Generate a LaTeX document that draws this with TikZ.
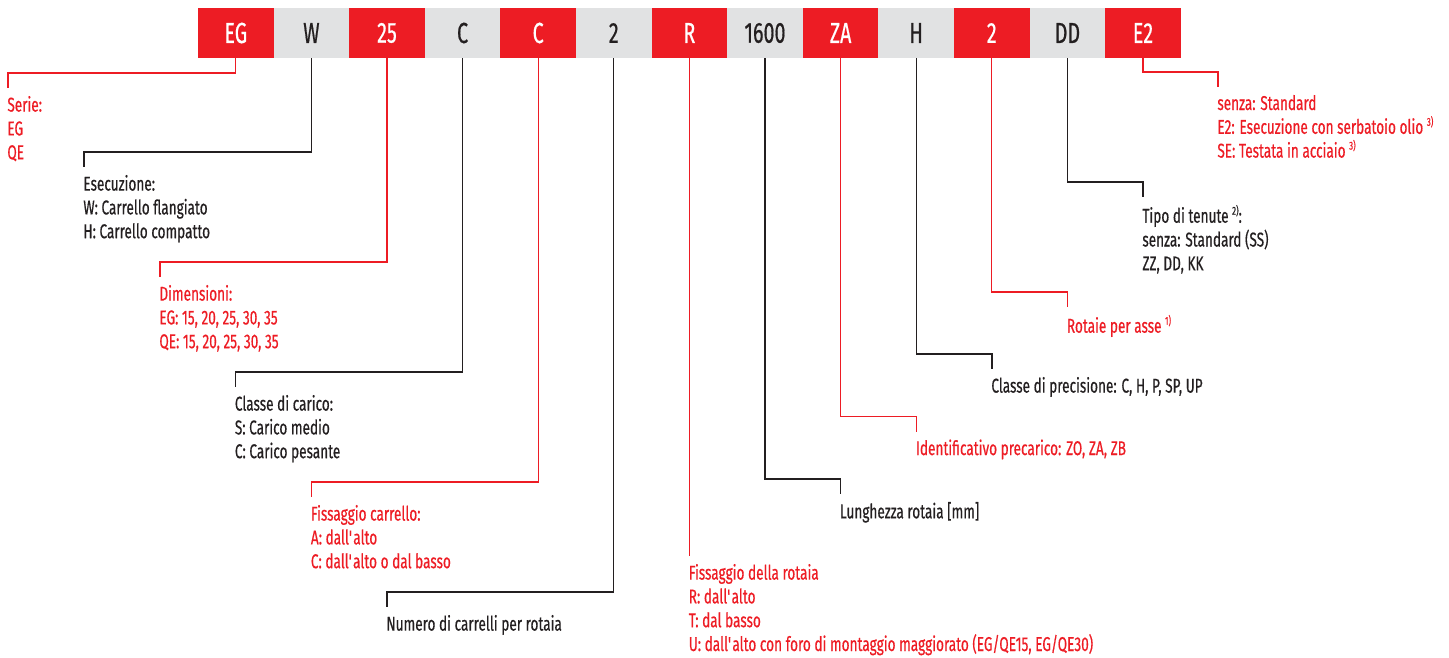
\documentclass[tikz,border=0pt]{standalone}
\usepackage{fontspec}
\setmainfont{Fira Sans}[FakeStretch=0.68,FakeBold=0.5]
\definecolor{hred}{HTML}{ED1C24}
\definecolor{hgray}{HTML}{E1E2E3}
\definecolor{hdark}{HTML}{231F20}
\newcommand\fnsup[1]{\raisebox{0.40em}{\fontsize{11.5}{11.5}\selectfont #1}}
\begin{document}
\begin{tikzpicture}[x=1pt,y=-1pt,
  hbox/.style={minimum width=75.6pt,minimum height=50pt,inner sep=0,outer sep=0,
    font=\fontsize{29}{32}\selectfont},
  redbox/.style={hbox,fill=hred,text=white},
  graybox/.style={hbox,fill=hgray,text=hdark},
  rline/.style={draw=hred,line width=1.2pt},
  kline/.style={draw=hdark,line width=1.2pt},
  lab/.style={anchor=north west,inner sep=0,align=left,yshift=-7.8pt,xshift=-0.8pt,
    font=\fontsize{20}{23.8}\selectfont},
  rlab/.style={lab,text=hred},
  klab/.style={lab,text=hdark}]
\useasboundingbox (0,0) rectangle (1449,657);
% header boxes
\node[redbox]  (b1)  at (235.8,33)  {EG};
\node[graybox] (b2)  at (311.4,33)  {W};
\node[redbox]  (b3)  at (387.0,33)  {25};
\node[graybox] (b4)  at (462.6,33)  {C};
\node[redbox]  (b5)  at (538.2,33)  {C};
\node[graybox] (b6)  at (613.8,33)  {2};
\node[redbox]  (b7)  at (689.4,33)  {R};
\node[graybox] (b8)  at (765.0,33)  {1600};
\node[redbox]  (b9)  at (840.6,33)  {ZA};
\node[graybox] (b10) at (916.2,33)  {H};
\node[redbox]  (b11) at (991.8,33)  {2};
\node[graybox] (b12) at (1067.4,33) {DD};
\node[redbox]  (b13) at (1143.0,33) {E2};
% tick ends
\coordinate (k1) at (8,88);
\coordinate (k2) at (84,167);
\coordinate (k3) at (160,277);
\coordinate (k4) at (235.5,387);
\coordinate (k5) at (311.5,497);
\coordinate (k6) at (387,607);
\coordinate (k7) at (689.4,556);
\coordinate (k8) at (840.5,494);
\coordinate (k9) at (916.5,431.5);
\coordinate (k10) at (992,369);
\coordinate (k11) at (1067.5,307);
\coordinate (k12) at (1143,197);
\coordinate (k13) at (1218,87);
% labels
\node[rlab] (l1) at (k1) {Serie:\\EG\\QE};
\node[klab] (l2) at (k2) {Esecuzione:\\W: Carrello flangiato\\H: Carrello compatto};
\node[rlab] (l3) at (k3) {Dimensioni:\\EG: 15, 20, 25, 30, 35\\QE: 15, 20, 25, 30, 35};
\node[klab] (l4) at (k4) {Classe di carico:\\S: Carico medio\\C: Carico pesante};
\node[rlab] (l5) at (k5) {Fissaggio carrello:\\A: dall\textquotesingle alto\\C: dall\textquotesingle alto o dal basso};
\node[klab] (l6) at (k6) {Numero di carrelli per rotaia};
\node[rlab] (l7) at (k7) {Fissaggio della rotaia\\R: dall\textquotesingle alto\\T: dal basso\\U: dall\textquotesingle alto con foro di montaggio maggiorato (EG/QE15, EG/QE30)};
\node[klab] (l8) at (k8) {Lunghezza rotaia [mm]};
\node[rlab] (l9) at (k9) {Identificativo precarico: ZO, ZA, ZB};
\node[klab] (l10) at (k10) {Classe di precisione: C, H, P, SP, UP};
\node[rlab] (l11) at (k11) {Rotaie per asse \fnsup{1)}};
\node[klab] (l12) at (k12) {Tipo di tenute \fnsup{2)}:\\senza: Standard (SS)\\ZZ, DD, KK};
\node[rlab] (l13) at (k13) {senza: Standard\\E2: Esecuzione con serbatoio olio \fnsup{3)}\\SE: Testata in acciaio \fnsup{3)}};
% connectors
\draw[rline] (b1.south) |- ([yshift=15pt]k1) -- (k1);
\draw[kline] (b2.south) |- ([yshift=15pt]k2) -- (k2);
\draw[rline] (b3.south) |- ([yshift=15pt]k3) -- (k3);
\draw[kline] (b4.south) |- ([yshift=15pt]k4) -- (k4);
\draw[rline] (b5.south) |- ([yshift=15pt]k5) -- (k5);
\draw[kline] (b6.south) |- ([yshift=15pt]k6) -- (k6);
\draw[rline] (b7.south) -- (k7);
\draw[kline] (b8.south) |- ([yshift=15pt]k8) -- (k8);
\draw[rline] (b9.south) |- ([yshift=15pt]k9) -- (k9);
\draw[kline] (b10.south) |- ([yshift=15pt]k10) -- (k10);
\draw[rline] (b11.south) |- ([yshift=15pt]k11) -- (k11);
\draw[kline] (b12.south) |- ([yshift=15pt]k12) -- (k12);
\draw[rline] (b13.south) |- ([yshift=15pt]k13) -- (k13);
\end{tikzpicture}
\end{document}
